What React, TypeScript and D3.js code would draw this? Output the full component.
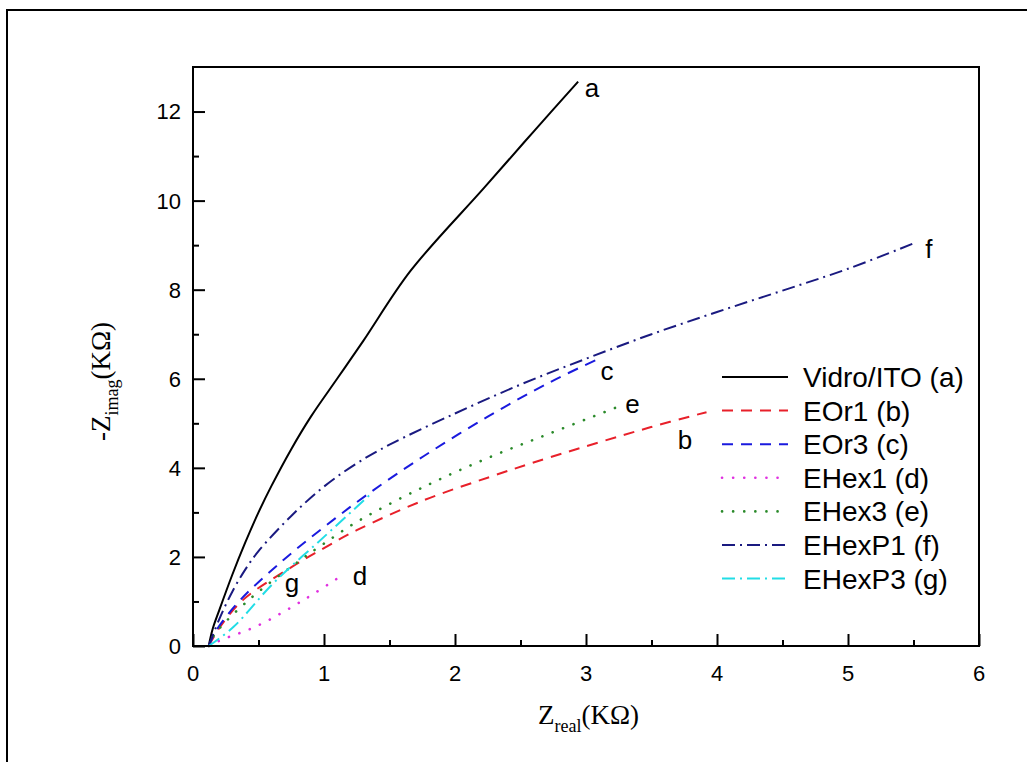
import { useEffect, useRef } from "react";
import * as d3 from "d3";

// Z_real (KOhm), -Z_imag (KOhm)
const vidroITO = [[0.12, 0], [0.15, 0.38], [0.2, 0.8], [0.3, 1.6], [0.4, 2.33], [0.5, 3.0], [0.6, 3.6], [0.75, 4.42], [0.9, 5.15], [1.1, 6.0], [1.3, 6.85], [1.66, 8.42], [2.22, 10.28], [2.6, 11.55], [2.94, 12.67]];
const eor1 = [[0.12, 0], [0.2, 0.4], [0.38, 1.03], [0.74, 1.75], [1.0, 2.2], [1.25, 2.6], [1.76, 3.27], [2.27, 3.8], [2.73, 4.24], [3.49, 4.91], [3.92, 5.25]];
const eor3 = [[0.12, 0], [0.18, 0.36], [0.36, 1.03], [0.69, 1.93], [1.0, 2.67], [1.33, 3.4], [1.76, 4.26], [2.25, 5.15], [2.73, 5.93], [3.09, 6.44]];
const ehex1 = [[0.12, 0], [0.21, 0.13], [0.49, 0.45], [0.87, 1.08], [1.16, 1.63]];
const ehex3 = [[0.12, 0], [0.17, 0.28], [0.44, 1.07], [0.82, 1.93], [1.0, 2.3], [1.27, 2.82], [1.76, 3.57], [2.25, 4.22], [2.73, 4.78], [3.27, 5.4]];
const ehexP1 = [[0.12, 0], [0.2, 0.6], [0.3, 1.22], [0.4, 1.72], [0.5, 2.13], [0.75, 2.92], [1.0, 3.58], [1.25, 4.1], [1.5, 4.52], [2.0, 5.22], [2.5, 5.87], [3.0, 6.45], [3.5, 7.0], [4.0, 7.5], [4.5, 7.98], [5.0, 8.47], [5.51, 9.05]];
const ehexP3 = [[0.12, 0], [0.31, 0.43], [0.61, 1.4], [1.0, 2.45], [1.36, 3.42]];

const legendNames = ["Vidro/ITO (a)", "EOr1 (b)", "EOr3 (c)", "EHex1 (d)", "EHex3 (e)", "EHexP1 (f)", "EHexP3 (g)"];
const curveLetters = ["a", "b", "c", "d", "e", "f", "g"];
const xTicks = [0, 1, 2, 3, 4, 5, 6];
const yTicks = [0, 2, 4, 6, 8, 10, 12];

export default function App() {
  const ref = useRef(null);

  useEffect(() => {
    const width = 1027;
    const height = 762;
    const m = { left: 193, top: 67, right: 979, bottom: 646 };

    const x = d3.scaleLinear().domain([0, 6]).range([m.left, m.right]);
    const y = d3.scaleLinear().domain([0, 13]).range([m.bottom, m.top]);

    const series = [
      { data: vidroITO, color: "#000000", dash: null, cap: "butt" },
      { data: eor1, color: "#e8202a", dash: "11,8", cap: "butt" },
      { data: eor3, color: "#1a1ade", dash: "11,8", cap: "butt" },
      { data: ehex1, color: "#e030e0", dash: "0.1,11", cap: "round" },
      { data: ehex3, color: "#2a8a2a", dash: "0.1,11", cap: "round" },
      { data: ehexP1, color: "#1a1a80", dash: "13,5,2,5", cap: "butt" },
      { data: ehexP3, color: "#22dde6", dash: "13,5,2,5", cap: "butt" },
    ];

    // baseline-left position of each curve letter (data units)
    const labelPos = [[2.99, 12.33], [3.7, 4.42], [3.11, 5.97], [1.22, 1.37], [3.3, 5.23], [5.59, 8.71], [0.7, 1.21]];

    const root = d3.select(ref.current);
    root.selectAll("*").remove();
    const svg = root
      .append("svg")
      .attr("width", width)
      .attr("height", height)
      .style("position", "absolute")
      .style("left", 0)
      .style("top", 0)
      .style("background", "#fff");

    svg
      .append("rect")
      .attr("x", 7)
      .attr("y", 10)
      .attr("width", 1040)
      .attr("height", 780)
      .attr("fill", "#fff")
      .attr("stroke", "#000")
      .attr("stroke-width", 2);

    const line = d3
      .line()
      .x((d) => x(d[0]))
      .y((d) => y(d[1]))
      .curve(d3.curveCatmullRom.alpha(0.5));

    svg
      .append("g")
      .selectAll("path")
      .data(series)
      .join("path")
      .attr("d", (d) => line(d.data))
      .attr("fill", "none")
      .attr("stroke", (d) => d.color)
      .attr("stroke-width", (d) => (d.cap === "round" ? 2.6 : 2))
      .attr("stroke-linecap", (d) => d.cap)
      .attr("stroke-dasharray", (d) => d.dash);

    // frame
    svg
      .append("rect")
      .attr("x", m.left)
      .attr("y", m.top)
      .attr("width", m.right - m.left)
      .attr("height", m.bottom - m.top)
      .attr("fill", "none")
      .attr("stroke", "#000")
      .attr("stroke-width", 2);

    const font = "Liberation Sans, Arial, sans-serif";

    // x axis ticks (inward)
    const xAxis = d3
      .axisBottom(x)
      .tickValues(d3.range(0, 6.01, 0.5))
      .tickSize(0)
      .tickFormat(() => "");
    const gx = svg.append("g").attr("transform", `translate(0,${m.bottom})`).call(xAxis);
    gx.select(".domain").remove();
    gx.selectAll(".tick line")
      .attr("y2", (d) => (Number.isInteger(d) ? -12 : -6))
      .attr("stroke", "#000")
      .attr("stroke-width", 2);
    svg
      .append("g")
      .selectAll("text")
      .data(xTicks)
      .join("text")
      .attr("x", (d) => x(d))
      .attr("y", m.bottom + 35)
      .attr("text-anchor", "middle")
      .style("font", `22px ${font}`)
      .text((d) => d);

    const yAxis = d3
      .axisLeft(y)
      .tickValues(d3.range(0, 13, 1))
      .tickSize(0)
      .tickFormat(() => "");
    const gy = svg.append("g").attr("transform", `translate(${m.left},0)`).call(yAxis);
    gy.select(".domain").remove();
    gy.selectAll(".tick line")
      .attr("x2", (d) => (d % 2 === 0 ? 12 : 6))
      .attr("stroke", "#000")
      .attr("stroke-width", 2);
    svg
      .append("g")
      .selectAll("text")
      .data(yTicks)
      .join("text")
      .attr("x", m.left - 12)
      .attr("y", (d) => y(d))
      .attr("dy", "0.36em")
      .attr("text-anchor", "end")
      .style("font", `22px ${font}`)
      .text((d) => d);

    // axis titles
    const serif = "Liberation Serif, Times New Roman, serif";
    const xt = svg
      .append("text")
      .attr("x", 538)
      .attr("y", 724)
      .style("font", `27px ${serif}`);
    xt.append("tspan").text("Z");
    xt.append("tspan").attr("dy", 8).style("font-size", "18px").text("real");
    xt.append("tspan").attr("dy", -8).text("(KΩ)");

    const yt = svg
      .append("text")
      .attr("transform", `translate(110,441) rotate(-90)`)
      .style("font", `27px ${serif}`);
    yt.append("tspan").text("-Z");
    yt.append("tspan").attr("dy", 8).style("font-size", "18px").text("imag");
    yt.append("tspan").attr("dy", -8).text("(KΩ)");

    // curve letters
    svg
      .append("g")
      .selectAll("text")
      .data(curveLetters)
      .join("text")
      .attr("x", (d, i) => x(labelPos[i][0]))
      .attr("y", (d, i) => y(labelPos[i][1]))
      .style("font", `26px ${font}`)
      .text((d) => d);

    // legend
    const leg = svg
      .append("g")
      .selectAll("g")
      .data(series)
      .join("g")
      .attr("transform", (d, i) => `translate(722,${377 + i * 33.6})`);
    leg
      .append("line")
      .attr("x1", 0)
      .attr("x2", 66)
      .attr("stroke", (d) => d.color)
      .attr("stroke-width", (d) => (d.cap === "round" ? 2.6 : 2))
      .attr("stroke-linecap", (d) => d.cap)
      .attr("stroke-dasharray", (d) => d.dash);
    leg
      .append("text")
      .attr("x", 81)
      .attr("dy", "0.36em")
      .style("font", `28px ${font}`)
      .text((d, i) => legendNames[i]);
  }, []);

  return <div ref={ref} />;
}
